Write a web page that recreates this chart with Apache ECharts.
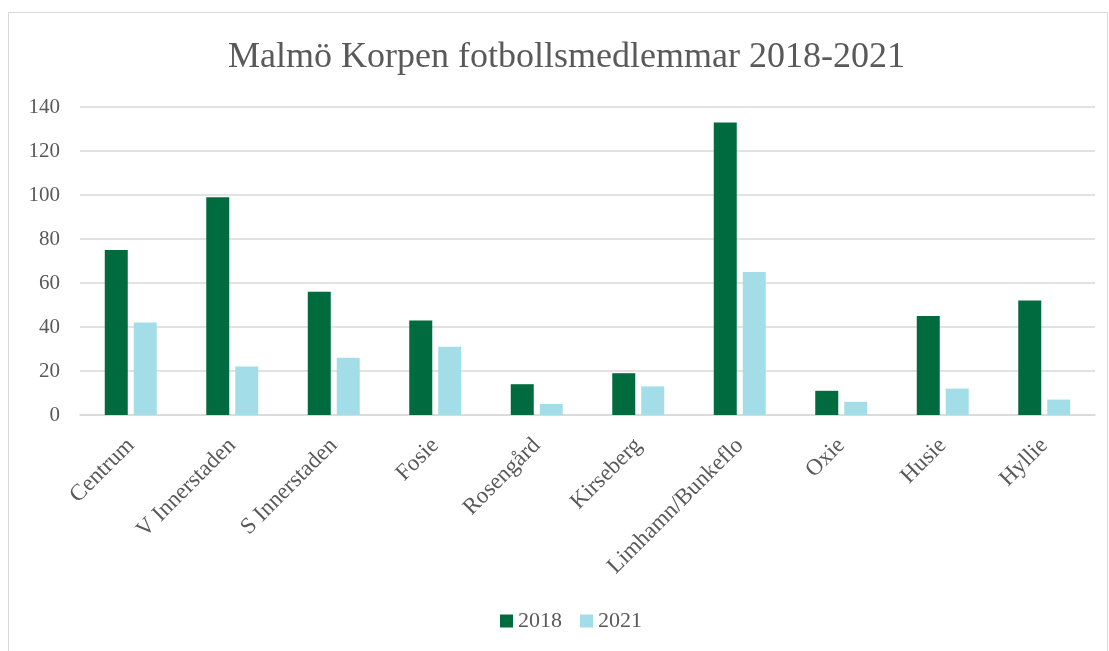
<!DOCTYPE html>
<html><head><meta charset="utf-8">
<script src="https://cdn.jsdelivr.net/npm/echarts@6/dist/echarts.min.js"></script>
<style>html,body{margin:0;padding:0;background:#fff}#frame{position:absolute;left:8px;top:12px;width:1100px;height:660px;border:1px solid #d9d9d9;box-sizing:border-box}#c{position:absolute;left:0;top:0;width:1109px;height:651px}</style>
</head><body><div id="frame"></div><div id="c"></div>
<script>
const categories = ['Centrum','V Innerstaden','S Innerstaden','Fosie','Rosengård','Kirseberg','Limhamn/Bunkeflo','Oxie','Husie','Hyllie'];
const values2018 = [75,99,56,43,14,19,133,11,45,52];
const values2021 = [42,22,26,31,5,13,65,6,12,7];
const yTicks = {min:0,max:140,interval:20};
const font = '"Liberation Serif","DejaVu Serif",serif';
const chart = echarts.init(document.getElementById('c'));
chart.setOption({
  backgroundColor:'transparent',
  animation:false,
  title:{text:'Malmö Korpen fotbollsmedlemmar 2018-2021',left:223,top:35,
    textStyle:{fontFamily:font,fontWeight:'normal',fontSize:36,color:'#595959'}},
  legend:{bottom:14,left:495,itemWidth:13,itemHeight:13,itemGap:18,icon:'rect',
    textStyle:{fontFamily:font,fontSize:22,color:'#595959'}},
  grid:{left:80,right:14,top:107,bottom:236},
  xAxis:{type:'category',data:categories,
    axisLine:{lineStyle:{color:'#d9d9d9',width:1.5}},axisTick:{show:false},
    axisLabel:{rotate:45,interval:0,margin:27,fontFamily:font,fontSize:23,color:'#595959'}},
  yAxis:{type:'value',min:yTicks.min,max:yTicks.max,interval:yTicks.interval,
    axisLine:{show:false},axisTick:{show:false},
    splitLine:{lineStyle:{color:'#d9d9d9',width:1.5}},
    axisLabel:{margin:20,fontFamily:font,fontSize:21,color:'#595959'}},
  series:[
    {name:'2018',type:'bar',data:values2018,barWidth:23,barGap:'26%',itemStyle:{color:'#006B3F'}},
    {name:'2021',type:'bar',data:values2021,barWidth:23,itemStyle:{color:'#A3DDE8'}}
  ]
});
</script></body></html>
